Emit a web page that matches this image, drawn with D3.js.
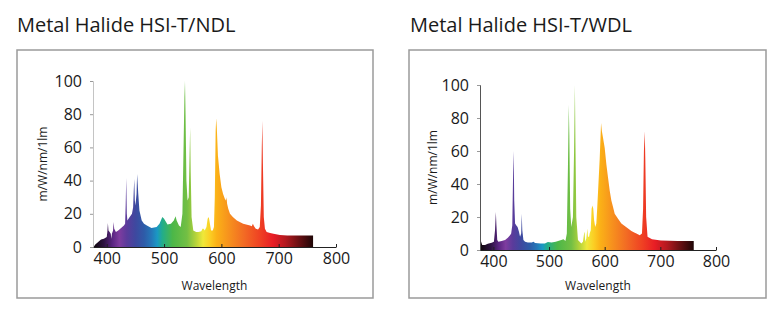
<!DOCTYPE html>
<html>
<head>
<meta charset="utf-8">
<script src="https://cdn.jsdelivr.net/npm/d3@7/dist/d3.min.js"></script>
<style>
  body { margin: 0; background: #fff; }
  text { font-family: "Open Sans", sans-serif; fill: #1a1a1a; }
</style>
</head>
<body>
<svg id="chart" width="780" height="317"></svg>
<script>
// chart titles
const titles = ["Metal Halide HSI-T/NDL", "Metal Halide HSI-T/WDL"];

// HSI-T/NDL spectrum (nm, mW/nm/1lm)
const ndlWavelength = [377, 380, 385, 390, 395, 400, 401, 402, 403, 405, 407, 408, 409, 411, 412, 413, 416, 420, 425, 430,
  432, 433, 434, 435, 436, 440, 444, 446, 447, 448, 449, 450, 452, 453, 454, 455, 457, 461, 465, 470,
  478, 487, 492, 497, 500, 506, 512, 517, 520, 522, 526, 529, 532, 534, 535.5, 536.5, 537.5, 539, 541, 543,
  544.5, 545.5, 546.5, 548, 551, 556, 560, 565, 567, 569, 571, 574, 576, 578, 580, 582, 585, 587, 588.5, 590,
  591, 592, 594, 597, 600, 603, 606, 608, 609, 610, 612, 615, 620, 627, 638, 650, 653, 655, 657, 660,
  664, 667, 669, 670.5, 671.5, 672.5, 674, 676, 679, 685, 691, 702, 715, 731, 750, 760];
const ndlValue = [0, 1.5, 3, 4.5, 5, 6, 9, 14.5, 10, 9, 8, 5, 8, 10, 15, 11, 9, 10, 11.5, 13,
  14, 25, 41.5, 20, 16, 18, 20, 24, 33, 41, 28, 25, 32, 44, 38, 32, 22, 16, 14, 13,
  11.5, 12, 14, 18, 17, 13.5, 14, 16, 18.5, 16, 13, 12, 20, 60, 90, 100, 80, 40, 28, 30,
  55, 72, 45, 18, 10, 9, 9, 9.5, 11, 11, 10, 12, 17, 18, 14, 10, 10, 12, 30, 70,
  77.5, 72, 55, 44, 36, 32, 29, 28, 30, 26, 23, 20, 18, 16, 14, 13, 12.5, 14, 12.5, 11,
  10.5, 12, 25, 60, 76, 50, 18, 11, 9, 8.5, 8, 7.3, 7, 7, 7, 7];

// HSI-T/WDL spectrum
const wdlWavelength = [377, 378, 380, 385, 390, 397, 401, 403, 404.5, 405.5, 407, 409, 415, 421, 426, 430, 432, 434, 435.5, 436.5,
  437.5, 439, 441, 443.5, 446, 448, 450, 451, 452, 454, 457, 462, 469, 472, 475, 485, 492.5, 498, 504.5, 512,
  522, 526, 529.5, 532, 534, 535.5, 536.5, 538, 540, 543, 545, 546.5, 547.5, 549, 552, 558, 561, 563, 564, 565,
  567, 569, 570, 572, 573, 575, 576.5, 578, 579.5, 581, 583, 585, 586.5, 588, 591, 593.5, 595, 597, 600, 603,
  606, 609, 612, 615, 618, 624, 630, 636, 642, 648, 654, 657, 663, 667, 669, 670.5, 672, 673, 674.5, 677,
  685, 701, 731, 760];
const wdlValue = [7, 5, 3, 3, 3.8, 4.4, 5, 12, 23, 15, 6, 5, 5.5, 6, 7.5, 9, 10, 15, 47, 60,
  30, 16, 15, 14, 11, 8, 10, 22, 12, 6, 5, 4.5, 4.5, 5, 4.2, 4, 4, 4.8, 4.6, 5,
  6, 6.5, 5.5, 10, 50, 88, 70, 25, 14, 20, 60, 100, 65, 20, 6, 4, 5, 10, 11, 5,
  7, 13, 8, 8, 10, 12, 25, 27, 25, 18, 14, 16, 25, 35, 55, 77, 72, 68, 62, 52,
  44, 36, 30, 26, 22, 19, 16, 14.5, 13, 11.5, 10.5, 10, 9, 10, 25, 60, 72, 55, 20, 8,
  6.5, 5.7, 5.5, 5.5];

const xTicks = [400, 500, 600, 700, 800];
const yTicks = [0, 20, 40, 60, 80, 100];

// colour of the light at each wavelength
const stopWavelength = [380, 395, 410, 422, 435, 450, 465, 478, 488, 497, 515, 540, 556, 568, 580, 592, 612, 640, 668, 690, 712, 735, 760];
const stopColor = ["#140814", "#2c1240", "#5a2582", "#7e3c9f", "#5a3b9b", "#3e489f", "#2e5ba8", "#2577b8", "#1a98c4", "#22ad8a",
  "#4cb748", "#73bf44", "#b8d43a", "#efe83a", "#fbcf24", "#fbb117", "#f7931d", "#f26a24", "#ef4023", "#e81d25",
  "#b3191f", "#6a1013", "#1e0606"];

const panels = [
  {title: titles[0], w: ndlWavelength, v: ndlValue, box: [17, 50, 373, 298], xr: [93, 336], yr: [247, 81],
   titleX: 17, yLabelX: 43, yAxisColor: "#c4c4c4"},
  {title: titles[1], w: wdlWavelength, v: wdlValue, box: [409, 50, 766, 298], xr: [480, 716], yr: [250, 85],
   titleX: 410, yLabelX: 433, yAxisColor: "#555"}
];

const svg = d3.select("#chart");
const defs = svg.append("defs");

panels.forEach((p, i) => {
  const x = d3.scaleLinear().domain([376, 800]).range(p.xr);
  const y = d3.scaleLinear().domain([0, 100]).range(p.yr);
  const g = svg.append("g");

  g.append("text")
    .attr("x", p.titleX).attr("y", 32)
    .style("font-size", "20px")
    .text(p.title);

  g.append("rect")
    .attr("x", p.box[0]).attr("y", p.box[1])
    .attr("width", p.box[2] - p.box[0]).attr("height", p.box[3] - p.box[1])
    .attr("fill", "none").attr("stroke", "#9a9a9a").attr("stroke-width", 1.5);

  // spectrum gradient in wavelength space
  const grad = defs.append("linearGradient")
    .attr("id", "spec" + i)
    .attr("gradientUnits", "userSpaceOnUse")
    .attr("x1", x(stopWavelength[0])).attr("x2", x(stopWavelength[stopWavelength.length - 1]))
    .attr("y1", 0).attr("y2", 0);
  const span = stopWavelength[stopWavelength.length - 1] - stopWavelength[0];
  grad.selectAll("stop").data(stopWavelength).enter().append("stop")
    .attr("offset", d => (d - stopWavelength[0]) / span)
    .attr("stop-color", (d, k) => stopColor[k]);

  const data = p.w.map((w, k) => [w, p.v[k]]);
  const area = d3.area()
    .x(d => x(d[0]))
    .y0(y(0))
    .y1(d => y(d[1]));

  g.append("path")
    .datum(data)
    .attr("d", area)
    .attr("fill", "url(#spec" + i + ")");

  // y axis
  const ya = g.append("g")
    .attr("transform", "translate(" + p.xr[0] + ",0)")
    .call(d3.axisLeft(y).tickValues(yTicks).tickSize(3).tickPadding(8));
  ya.select(".domain").attr("stroke", p.yAxisColor);
  ya.selectAll(".tick line").attr("stroke", "#999");
  ya.selectAll("text").style("font-size", "16px").style("font-family", "'Open Sans', sans-serif").attr("fill", "#1a1a1a");

  // x axis
  const xa = g.append("g")
    .attr("transform", "translate(0," + y(0) + ")")
    .call(d3.axisBottom(x).tickValues(xTicks).tickSize(-3).tickSizeOuter(0).tickPadding(6));
  xa.select(".domain").attr("stroke", "#222");
  xa.selectAll(".tick line").attr("stroke", "#222");
  xa.selectAll("text").style("font-size", "16px").style("font-family", "'Open Sans', sans-serif").attr("fill", "#1a1a1a");

  g.append("text")
    .attr("x", (p.xr[0] + p.xr[1]) / 2).attr("y", 290)
    .attr("text-anchor", "middle")
    .style("font-size", "12px")
    .text("Wavelength");

  g.append("text")
    .attr("transform", "translate(" + p.yLabelX + "," + ((p.yr[0] + p.yr[1]) / 2) + ") rotate(-90)")
    .attr("text-anchor", "middle")
    .attr("dy", "0.35em")
    .style("font-size", "12px")
    .text("m/W/nm/1lm");
});
</script>
</body>
</html>
